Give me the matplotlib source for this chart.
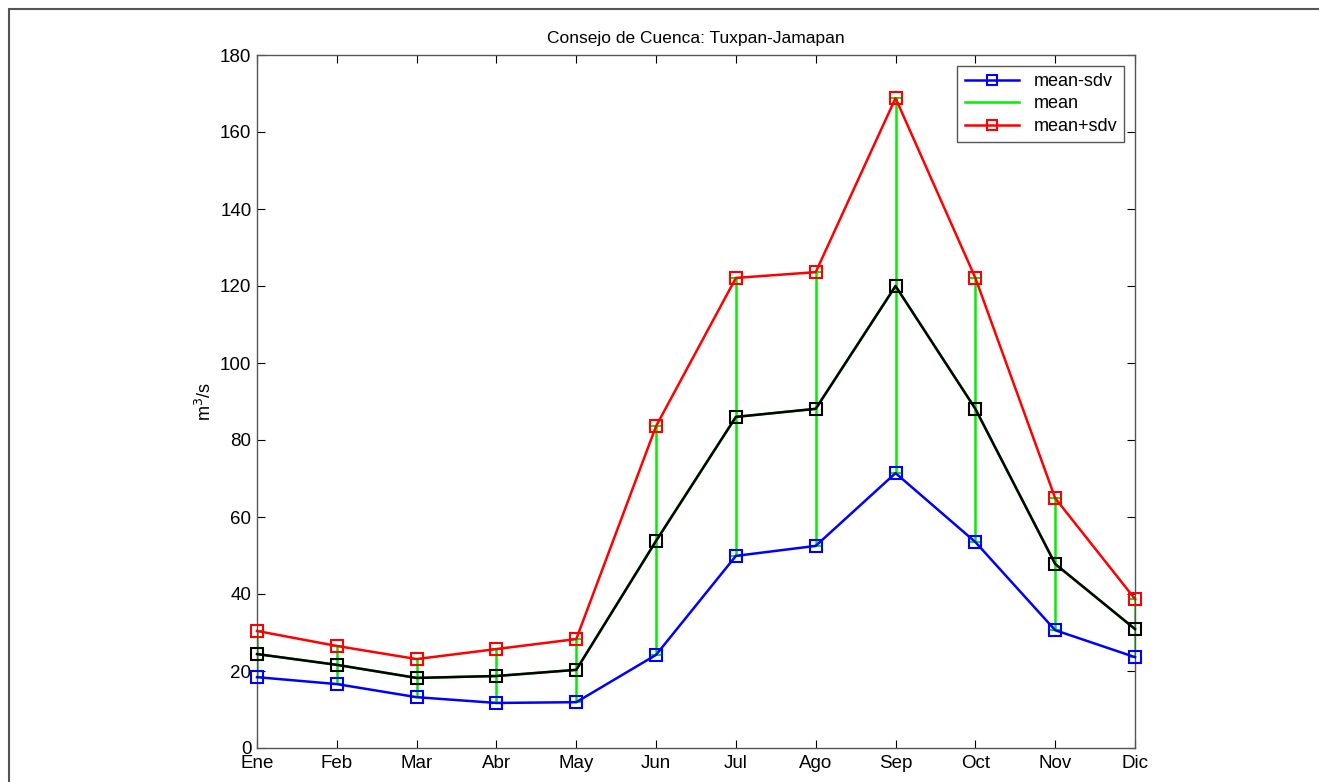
import numpy as np
import matplotlib
matplotlib.use("Agg")
import matplotlib.pyplot as plt
from matplotlib.patches import Rectangle
from matplotlib.lines import Line2D

plt.rcParams['font.family'] = ['Liberation Sans', 'DejaVu Sans']

months = ['Ene', 'Feb', 'Mar', 'Abr', 'May', 'Jun', 'Jul', 'Ago', 'Sep', 'Oct', 'Nov', 'Dic']
mean_minus = [18.4, 16.6, 13.2, 11.7, 11.9, 24.2, 49.9, 52.5, 71.4, 53.5, 30.6, 23.6]
mean_vals = [24.4, 21.6, 18.2, 18.7, 20.3, 53.8, 86.0, 88.1, 120.0, 88.1, 47.8, 30.9]
mean_plus = [30.4, 26.5, 23.1, 25.7, 28.3, 83.6, 122.1, 123.6, 168.8, 122.1, 64.9, 38.7]

x = np.arange(1, len(months) + 1)
lo = np.array(mean_vals) - np.array(mean_minus)
hi = np.array(mean_plus) - np.array(mean_vals)

fig = plt.figure(figsize=(13.19, 7.82), dpi=100)
# outer frame, only top and left edges fall inside the picture
fig.patches.append(Rectangle((9 / 1319, -0.2), 1.5, (782 - 9) / 782 + 0.2, transform=fig.transFigure,
                             fill=False, edgecolor='#555555', linewidth=1.5))

ax = fig.add_axes([257 / 1319, 34 / 782, (1135 - 257) / 1319, (748 - 55) / 782])

sq = dict(marker='s', markersize=8, markerfacecolor='none', markeredgewidth=1.5,
          linewidth=1.8, clip_on=False)
green = '#00ee00'
h_lo, = ax.plot(x, mean_minus, color='#0000ff', zorder=3, **sq)
ax.errorbar(x, mean_vals, yerr=[lo, hi], color=green, linewidth=1.8, elinewidth=1.8,
            capsize=4, capthick=1.5, zorder=2)
h_hi, = ax.plot(x, mean_plus, color='#ff0000', zorder=3, **sq)
ax.plot(x, mean_vals, color='black', zorder=4, **sq)
h_mean = Line2D([], [], color=green, linewidth=1.8)

ax.set_xlim(1, 12)
ax.set_ylim(0, 180)
ax.set_xticks(x)
ax.set_xticklabels(months)
ax.set_yticks(np.arange(0, 181, 20))
ax.tick_params(direction='in', length=6, labelsize=13.5, width=0.8, top=True, right=True)
ax.tick_params(axis='x', pad=5)
ax.tick_params(axis='y', pad=4)
for s in ax.spines.values():
    s.set_color('#555555')
    s.set_linewidth(1.0)

ax.set_ylabel('m$^3$/s', fontsize=13)
ax.set_title('Consejo de Cuenca: Tuxpan-Jamapan', fontsize=12.5, pad=9)

leg = ax.legend([h_lo, h_mean, h_hi], ['mean-sdv', 'mean', 'mean+sdv'], loc='upper right',
                fontsize=13, fancybox=False, edgecolor='#555555', framealpha=1,
                borderaxespad=0.6, handlelength=3.0, labelspacing=0.3, markerscale=0.9)
leg.get_frame().set_linewidth(1.0)

fig.savefig('out.png', dpi=100)
